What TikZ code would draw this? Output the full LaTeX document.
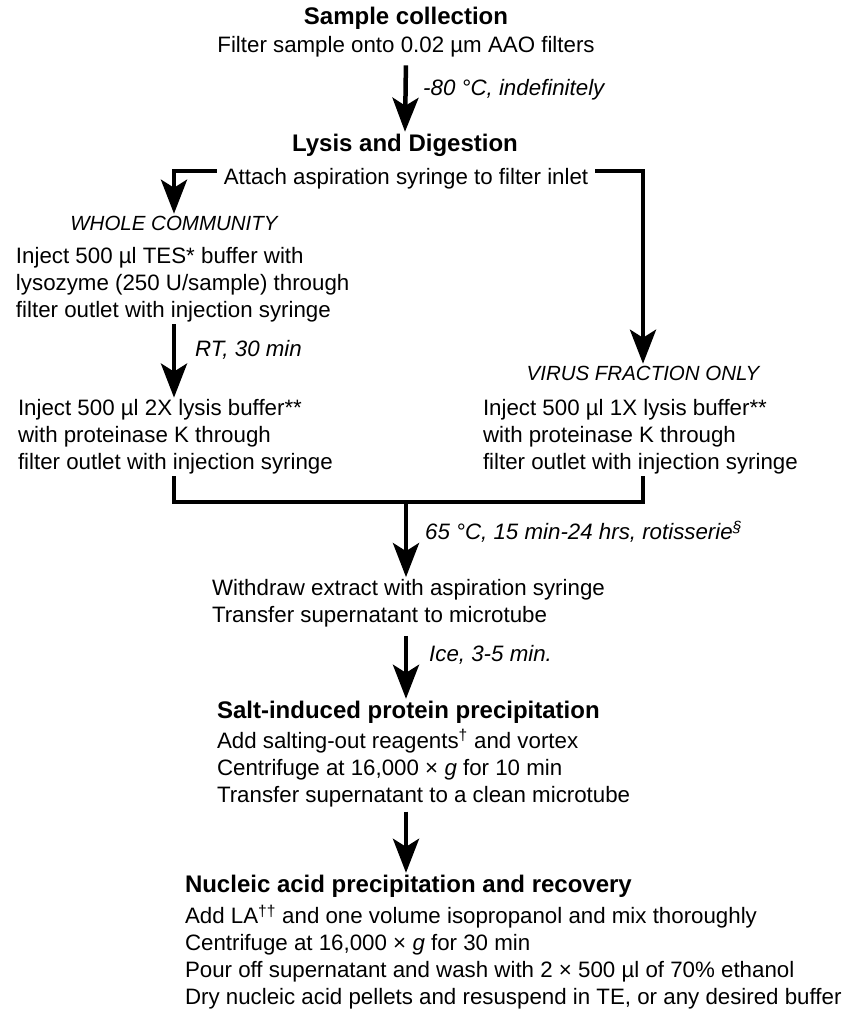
\documentclass[tikz,border=0pt]{standalone}
\usepackage{fontspec}
\setmainfont{Liberation Sans}
\usetikzlibrary{arrows.meta}

\tikzset{
  txt/.style={inner sep=0pt, outer sep=2pt, align=left, font=\fontsize{22.3}{27}\selectfont},
  head/.style={inner sep=0pt, outer sep=2pt, font=\fontsize{24}{28}\selectfont\bfseries},
  cond/.style={inner sep=0pt, anchor=west, font=\fontsize{22.3}{27}\selectfont\itshape},
  branch/.style={inner sep=0pt, outer sep=2pt, font=\fontsize{20.5}{24}\selectfont\itshape},
  flow/.style={line width=4.5pt, line join=miter, -{Stealth[width=26pt,length=34pt,inset=8pt]}},
  bar/.style={line width=4.5pt, line join=miter}
}

\begin{document}
\begin{tikzpicture}[x=1pt,y=-1pt]
\useasboundingbox (0,0) rectangle (843,1011);

\node[head] (sample) at (406,18) {Sample collection};
\node[txt] (filt) at (406,47) {Filter sample onto 0.02 µm AAO filters};
\node[cond] (cold) at (423,90) {-80 °C, indefinitely};

\node[head] (lysis) at (405,145) {Lysis and Digestion};
\node[txt, inner xsep=5pt] (attach) at (406,179) {Attach aspiration syringe to filter inlet};

\node[branch] (whole) at (174,223) {WHOLE COMMUNITY};
\node[txt, anchor=west] (tes) at (14,285) {Inject 500 µl TES* buffer with\\lysozyme (250 U/sample) through\\filter outlet with injection syringe};
\node[cond] (rt) at (195,350) {RT, 30 min};
\node[txt, anchor=west] (lyseA) at (16,437) {Inject 500 µl 2X lysis buffer**\\with proteinase K through\\filter outlet with injection syringe};

\node[branch] (virus) at (643,373) {VIRUS FRACTION ONLY};
\node[txt, anchor=west] (lyseB) at (481,437) {Inject 500 µl 1X lysis buffer**\\with proteinase K through\\filter outlet with injection syringe};

\coordinate (merge) at (406,502);
\node[cond] (heat) at (425,532) {65 °C, 15 min-24 hrs, rotisserie\textsuperscript{§}};
\node[txt, anchor=west] (withdraw) at (210,603) {Withdraw extract with aspiration syringe\\Transfer supernatant to microtube};
\node[cond] (ice) at (429,655) {Ice, 3-5 min.};

\node[head, anchor=west] (salt) at (215,712) {Salt-induced protein precipitation};
\node[txt, anchor=west] (saltsteps) at (215,768) {Add salting-out reagents\textsuperscript{†} and vortex\\Centrifuge at 16,000 × \textit{g} for 10 min\\Transfer supernatant to a clean microtube};

\node[head, anchor=west] (nucl) at (183,886) {Nucleic acid precipitation and recovery};
\node[txt, anchor=west] (nuclsteps) at (183,957) {Add LA\textsuperscript{††} and one volume isopropanol and mix thoroughly\\Centrifuge at 16,000 × \textit{g} for 30 min\\Pour off supernatant and wash with 2 × 500 µl of 70\% ethanol\\Dry nucleic acid pellets and resuspend in TE, or any desired buffer};

\draw[flow, shorten <=6pt] (filt.south) -- (lysis.north);
\draw[flow] ([yshift=8pt]attach.west) -| (whole.north);
\draw[flow] ([yshift=8pt]attach.east) -| (virus.north);
\draw[flow] (whole |- tes.south) -- (whole |- lyseA.north);
\draw[bar] (whole |- lyseA.south) |- (merge) -| (virus |- lyseB.south);
\draw[flow] (merge) -- (merge |- withdraw.north);
\draw[flow, shorten <=7pt] (merge |- withdraw.south) -- (merge |- salt.north);
\draw[flow, shorten <=3pt] (merge |- saltsteps.south) -- (merge |- nucl.north);
\end{tikzpicture}
\end{document}
